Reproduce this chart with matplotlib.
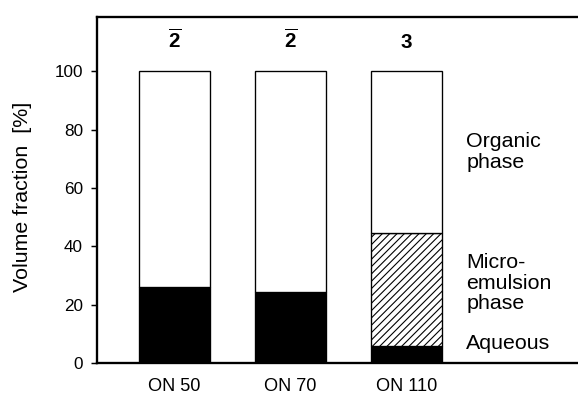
import matplotlib
matplotlib.use("Agg")
import matplotlib.pyplot as plt

plt.rcParams["font.family"] = ["Liberation Sans", "DejaVu Sans"]
plt.rcParams["mathtext.fontset"] = "custom"
plt.rcParams["mathtext.rm"] = "Liberation Sans"
plt.rcParams["mathtext.bf"] = "Liberation Sans:bold"
plt.rcParams["hatch.linewidth"] = 0.9

# volume fractions (%) of the coexisting phases
samples = ["ON 50", "ON 70", "ON 110"]
aqueous = [26.0, 24.3, 5.8]
microemulsion = [0.0, 0.0, 38.6]
organic = [74.0, 75.7, 55.6]
phase_type = [r"$\overline{\mathbf{2}}$", r"$\overline{\mathbf{2}}$", r"$\mathbf{3}$"]

# phase names written beside the last bar
side_labels = ["Organic\nphase", "Micro-\nemulsion\nphase", "Aqueous"]
side_y = [72.3, 27.4, 6.8]

DPI = 88
fig = plt.figure(figsize=(578 / DPI, 395 / DPI), dpi=DPI)
ax = fig.add_axes([0.167, 0.081, 0.843, 0.877])

x = list(range(len(samples)))
w = 0.61
ax.bar(x, aqueous, w, color="black", edgecolor="black", linewidth=1.1)
ax.bar(x, microemulsion, w, bottom=aqueous, color="white",
       edgecolor="black", hatch="////", linewidth=1.1)
top_bottom = [a + m for a, m in zip(aqueous, microemulsion)]
ax.bar(x, organic, w, bottom=top_bottom, color="white",
       edgecolor="black", linewidth=1.1)

for xi, lab in zip(x, phase_type):
    ax.text(xi, 108, lab, ha="center", va="baseline", fontsize=16.8)

for lab, yy in zip(side_labels, side_y):
    ax.text(2.517, yy, lab, ha="left", va="center", fontsize=17.5,
            linespacing=1.1)

ax.set_xlim(-0.674, 3.53)
ax.set_ylim(0, 118.7)
ax.set_xticks(x)
ax.set_xticklabels(samples, fontsize=14.8)
ax.set_yticks([0, 20, 40, 60, 80, 100])
ax.tick_params(axis="x", length=0, pad=12)
ax.tick_params(axis="y", length=5, width=1.2, pad=6, labelsize=14)

for s in ax.spines.values():
    s.set_linewidth(1.9)

ax.set_ylabel("Volume fraction  [%]", fontsize=17.5)
ax.yaxis.set_label_coords(-0.132, 0.479)

fig.savefig("out.png", dpi=DPI)
